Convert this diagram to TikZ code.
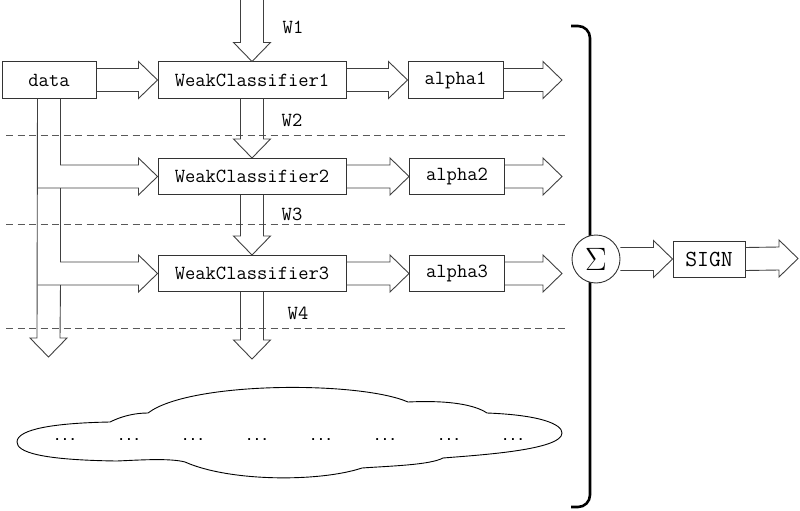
\documentclass[tikz,border=0pt]{standalone}
\usepackage{fontspec}
\usepackage{graphicx}
\newfontfamily\dotfont{Liberation Mono}
\usetikzlibrary{calc}

\begin{document}
\begin{tikzpicture}[x=1pt, y=-1pt, line join=miter, font=\ttfamily\fontsize{20}{20}\selectfont,
    box/.style={draw=black!80, line width=1pt, minimum height=36pt, inner sep=0pt},
    fat/.style={draw=black!75, line width=.9pt},
    cut/.style={draw=black!65, line width=.9pt, dash pattern=on 7pt off 4.5pt}]
    \useasboundingbox (0,0) rectangle (800,511);
    \def\sh{11.5}
    \def\hh{18.5}
    \def\hl{19}
    \def\harrow#1#2{\draw[fat] ($#1+(0,-\sh)$) -- ($#2+(-\hl,-\sh)$) -- ($#2+(-\hl,-\hh)$) -- #2 -- ($#2+(-\hl,\hh)$) -- ($#2+(-\hl,\sh)$) -- ($#1+(0,\sh)$);}
    \def\varrow#1#2{\draw[fat] ($#1+(-\sh,0)$) -- ($#2+(-\sh,-\hl)$) -- ($#2+(-\hh,-\hl)$) -- #2 -- ($#2+(\hh,-\hl)$) -- ($#2+(\sh,-\hl)$) -- ($#1+(\sh,0)$);}
    % boxes
    \node[box, minimum width=94pt] (data) at (49,80) {data};
    \node[box, minimum width=188pt] (wc1) at (252,80) {WeakClassifier1};
    \node[box, minimum width=188pt] (wc2) at (252,176.5) {WeakClassifier2};
    \node[box, minimum width=188pt] (wc3) at (252,273.5) {WeakClassifier3};
    \node[box, minimum width=95pt] (alpha1) at (455.5,80) {alpha1};
    \node[box, minimum width=95pt] (alpha2) at (457,176.5) {alpha2};
    \node[box, minimum width=95pt] (alpha3) at (457,273.5) {alpha3};
    \coordinate (w1) at (252,0);
    \coordinate (w4) at (252,359);
    \coordinate (dout) at (48.5,357);
    \coordinate (out1) at (562,80);
    \coordinate (out2) at (562,176.5);
    \coordinate (out3) at (562,273.5);
    \coordinate (out4) at (798,258.5);
    % weights
    \node (lw1) at (293,27) {W1};
    \node (lw2) at (292,120) {W2};
    \node (lw3) at (292,214) {W3};
    \node (lw4) at (298,313) {W4};
    \foreach \y in {135,224,328} \draw[cut] (6,\y) -- (566,\y);
    % fat arrows
    \varrow{(w1)}{(wc1.north)}
    \varrow{(wc1.south)}{(wc2.north)}
    \varrow{(wc2.south)}{(wc3.north)}
    \varrow{(wc3.south)}{(w4)}
    \harrow{(data.east)}{(wc1.west)}
    \harrow{(wc1.east)}{(alpha1.west)}
    \harrow{(wc2.east)}{(alpha2.west)}
    \harrow{(wc3.east)}{(alpha3.west)}
    \harrow{(alpha1.east)}{(out1)}
    \harrow{(alpha2.east)}{(out2)}
    \harrow{(alpha3.east)}{(out3)}
    % data goes down and into each classifier
    \coordinate (dl) at ($(data.south)+(-\sh,0)$);
    \coordinate (dr) at ($(data.south)+(\sh,0)$);
    \coordinate (b2t) at ($(wc2.west)+(-\hl,-\sh)$);
    \coordinate (b2b) at ($(wc2.west)+(-\hl,\sh)$);
    \coordinate (b3t) at ($(wc3.west)+(-\hl,-\sh)$);
    \coordinate (b3b) at ($(wc3.west)+(-\hl,\sh)$);
    \draw[fat] (dr) -- (dr |- b2t) -- (b2t) -- ($(wc2.west)+(-\hl,-\hh)$) -- (wc2.west) -- ($(wc2.west)+(-\hl,\hh)$) -- (b2b) -- (dl |- b2b);
    \draw[fat] (dr |- b2b) -- (dr |- b3t) -- (b3t) -- ($(wc3.west)+(-\hl,-\hh)$) -- (wc3.west) -- ($(wc3.west)+(-\hl,\hh)$) -- (b3b) -- (dl |- b3b);
    \draw[fat] (dr |- b3b) -- ($(dout)+(\sh,-\hl)$) -- ($(dout)+(\hh,-\hl)$) -- (dout) -- ($(dout)+(-\hh,-\hl)$) -- ($(dout)+(-\sh,-\hl)$) -- (dl);
    % bracket and sum
    \draw[line width=2.6pt, rounded corners=12pt] (571,26) -| (590,507) -- (571,507);
    \node[draw=black!80, line width=.9pt, fill=white, circle, minimum size=48pt, inner sep=0pt, font=\fontsize{24.88}{25}\selectfont] (sum) at (596,259) {\scalebox{1.3}{$\Sigma$}};
    \node[box, minimum width=72pt, font=\ttfamily\fontsize{23}{23}\selectfont] (sign) at (709,259) {SIGN};
    \harrow{(sum.east)}{(sign.west)}
    \harrow{(sign.east)}{(out4)}
    % cloud of further rounds
    \draw[line width=.9pt] (17,442) .. controls (17,429) and (55,423) .. (110,422)
        .. controls (122,416) and (135,413) .. (148,413)
        .. controls (190,381) and (360,381) .. (408,402)
        .. controls (450,400) and (475,405) .. (487,413)
        .. controls (540,415) and (562,424) .. (562,433)
        .. controls (562,450) and (480,455) .. (443,458)
        .. controls (430,465) and (390,466) .. (362,468)
        .. controls (320,482) and (230,482) .. (185,462)
        .. controls (170,458) and (140,460) .. (117,461)
        .. controls (40,460) and (17,452) .. cycle;
    \foreach \i in {0,...,7}
        \node[anchor=base, font=\dotfont\bfseries\fontsize{13}{13}\selectfont] (dots\i) at (65+64*\i,440) {...};
\end{tikzpicture}
\end{document}
